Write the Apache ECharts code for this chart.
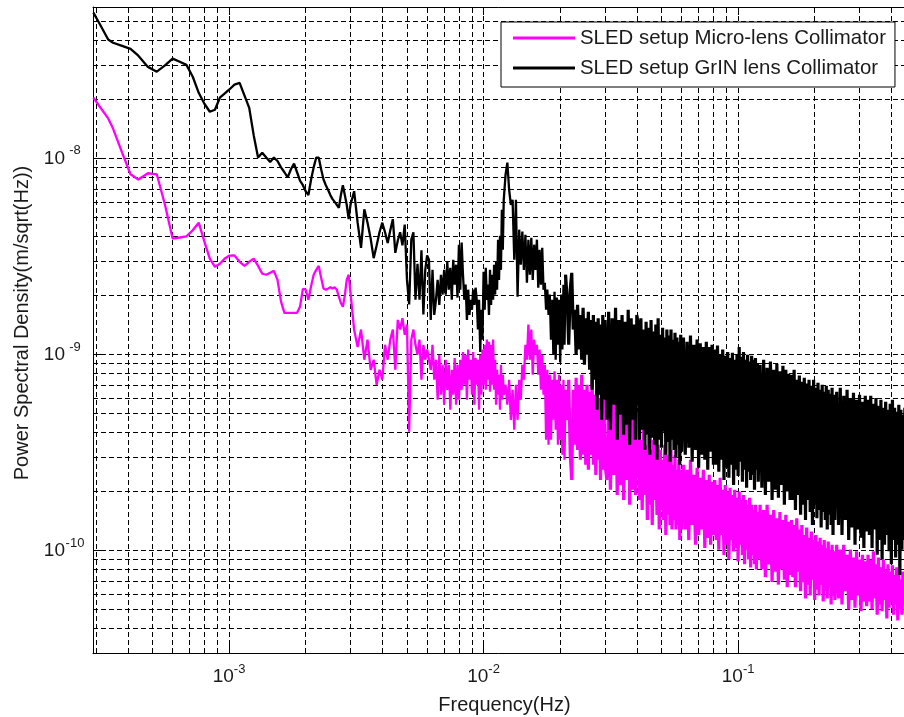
<!DOCTYPE html>
<html>
<head>
<meta charset="utf-8">
<script src="https://cdn.jsdelivr.net/npm/echarts/dist/echarts.min.js"></script>
<style>
  html, body { margin: 0; padding: 0; background: #ffffff; }
  #chart { width: 904px; height: 717px; }
</style>
</head>
<body>
<div id="chart"></div>
<script>
// Displacement noise spectra of the two SLED collimator setups.
// Frequencies in Hz; spectral densities in units of 1e-10 m/sqrt(Hz).
const UNIT = 1e-10;

const SERIES_NAMES = ['SLED setup Micro-lens Collimator', 'SLED setup GrIN lens Collimator'];

const freq = [
  // 0.29 - 2 mHz
  0.000293, 0.00031, 0.000335, 0.00035, 0.00038, 0.00041, 0.00044, 0.00048, 0.00052, 0.00056,
  0.0006, 0.00064, 0.00068, 0.00072, 0.00076, 0.0008, 0.00084, 0.00088, 0.00092, 0.00096,
  0.001, 0.00105, 0.0011, 0.00115, 0.0012, 0.00125, 0.0013, 0.00135, 0.0014, 0.00145,
  0.0015, 0.00155, 0.0016, 0.00165, 0.0017, 0.00175, 0.0018, 0.00185, 0.0019, 0.00195, 0.002,
  // 2 - 3 mHz
  0.00205, 0.0021, 0.00215, 0.0022, 0.00225, 0.0023, 0.00235, 0.0024, 0.00245, 0.0025,
  0.00255, 0.0026, 0.00265, 0.0027, 0.00275, 0.0028, 0.00285, 0.0029, 0.00295, 0.003,
  // 3 - 6 mHz
  0.0031, 0.0032, 0.0033, 0.0034, 0.0035, 0.0036, 0.0037, 0.0038, 0.0039, 0.004,
  0.0041, 0.0042, 0.0043, 0.0044, 0.0045, 0.0046, 0.0047, 0.0048, 0.0049, 0.005,
  0.0051, 0.0052, 0.0053, 0.0054, 0.0055, 0.0056, 0.0057, 0.0058, 0.0059, 0.006,
  // 6 - 12 mHz
  0.0061, 0.0062, 0.0063, 0.0064, 0.0065, 0.0066, 0.0067, 0.0068, 0.0069, 0.007,
  0.0071, 0.0072, 0.0073, 0.0074, 0.0075, 0.0076, 0.0077, 0.0078, 0.0079, 0.008,
  0.0081, 0.0082, 0.0083, 0.0084, 0.0085, 0.0086, 0.0087, 0.0088, 0.0089, 0.009,
  0.0091, 0.0092, 0.0093, 0.0094, 0.0095, 0.0096, 0.0097, 0.0098, 0.0099, 0.01,
  0.0101, 0.0102, 0.0103, 0.0104, 0.0105, 0.0106, 0.0107, 0.0108, 0.0109, 0.011,
  0.0111, 0.0112, 0.0113, 0.0114, 0.0115, 0.0116, 0.0117, 0.0118, 0.0119, 0.012,
  // 12 - 21 mHz
  0.0122, 0.0124, 0.0126, 0.0128, 0.013, 0.0132, 0.0134, 0.0136, 0.0138, 0.014,
  0.0142, 0.0144, 0.0146, 0.0148, 0.015, 0.0152, 0.0154, 0.0156, 0.0158, 0.016,
  0.0162, 0.0164, 0.0166, 0.0168, 0.017, 0.0172, 0.0174, 0.0176, 0.0178, 0.018,
  0.0182, 0.0184, 0.0186, 0.0188, 0.019, 0.0192, 0.0194, 0.0196, 0.0198, 0.02,
  0.0202, 0.0204, 0.0206, 0.0208, 0.021,
  // 21 - 30 mHz
  0.0213, 0.0216, 0.0219, 0.0222, 0.0225, 0.0228, 0.0231, 0.0234, 0.0237, 0.024,
  0.0243, 0.0246, 0.0249, 0.0252, 0.0255, 0.0258, 0.0261, 0.0264, 0.0267, 0.027,
  0.0273, 0.0276, 0.0279, 0.0282, 0.0285, 0.0288, 0.0291, 0.0294, 0.0297, 0.03,
  // 30 - 40 mHz
  0.0305, 0.031, 0.0315, 0.032, 0.0325, 0.033, 0.0335, 0.034, 0.0345, 0.035,
  0.0355, 0.036, 0.0365, 0.037, 0.0375, 0.038, 0.0385, 0.039, 0.0395, 0.04,
  // 40 - 60 mHz
  0.0405, 0.041, 0.0415, 0.042, 0.0425, 0.043, 0.0435, 0.044, 0.0445, 0.045,
  0.0455, 0.046, 0.0465, 0.047, 0.0475, 0.048, 0.0485, 0.049, 0.0495, 0.05,
  0.0505, 0.051, 0.0515, 0.052, 0.0525, 0.053, 0.0535, 0.054, 0.0545, 0.055,
  0.0555, 0.056, 0.0565, 0.057, 0.0575, 0.058, 0.0585, 0.059, 0.0595, 0.06,
  // 60 - 80 mHz
  0.061, 0.062, 0.063, 0.064, 0.065, 0.066, 0.067, 0.068, 0.069, 0.07,
  0.071, 0.072, 0.073, 0.074, 0.075, 0.076, 0.077, 0.078, 0.079, 0.08,
  // 80 - 120 mHz
  0.081, 0.082, 0.083, 0.084, 0.085, 0.086, 0.087, 0.088, 0.089, 0.09,
  0.091, 0.092, 0.093, 0.094, 0.095, 0.096, 0.097, 0.098, 0.099, 0.1,
  0.101, 0.102, 0.103, 0.104, 0.105, 0.106, 0.107, 0.108, 0.109, 0.11,
  0.111, 0.112, 0.113, 0.114, 0.115, 0.116, 0.117, 0.118, 0.119, 0.12,
  // 120 - 160 mHz
  0.122, 0.124, 0.126, 0.128, 0.13, 0.132, 0.134, 0.136, 0.138, 0.14,
  0.142, 0.144, 0.146, 0.148, 0.15, 0.152, 0.154, 0.156, 0.158, 0.16,
  // 160 - 240 mHz
  0.162, 0.164, 0.166, 0.168, 0.17, 0.172, 0.174, 0.176, 0.178, 0.18,
  0.182, 0.184, 0.186, 0.188, 0.19, 0.192, 0.194, 0.196, 0.198, 0.2,
  0.202, 0.204, 0.206, 0.208, 0.21, 0.212, 0.214, 0.216, 0.218, 0.22,
  0.222, 0.224, 0.226, 0.228, 0.23, 0.232, 0.234, 0.236, 0.238, 0.24,
  // 240 - 320 mHz
  0.244, 0.248, 0.252, 0.256, 0.26, 0.264, 0.268, 0.272, 0.276, 0.28,
  0.284, 0.288, 0.292, 0.296, 0.3, 0.304, 0.308, 0.312, 0.316, 0.32,
  // 320 - 500 mHz
  0.324, 0.328, 0.332, 0.336, 0.34, 0.344, 0.348, 0.352, 0.356, 0.36,
  0.364, 0.368, 0.372, 0.376, 0.38, 0.384, 0.388, 0.392, 0.396, 0.4,
  0.404, 0.408, 0.412, 0.416, 0.42, 0.424, 0.428, 0.432, 0.436, 0.44,
  0.444, 0.448, 0.452, 0.456, 0.46, 0.464, 0.468, 0.472, 0.476, 0.48,
  0.484, 0.488, 0.492, 0.496, 0.5
];

const microLens = [
  // 0.29 - 2 mHz
  204, 184, 160, 142, 107, 83, 78, 84, 83, 58,
  39, 39.5, 40, 43, 47, 37.6, 30.8, 28, 29, 30.8,
  31.9, 32, 29.7, 28.3, 29.7, 30.8, 28.3, 25.8, 25.5, 26.1,
  26.7, 24, 18.6, 16.3, 16.3, 16.3, 16.3, 16.3, 17.5, 21.6, 21.4,
  // 2 - 3 mHz
  19.0, 22.3, 25.5, 27, 28.3, 24.6, 21.7, 21.4, 21.7, 22,
  21.7, 22, 21.4, 19.7, 18.3, 17.5, 20, 24, 25.5, 20.6,
  // 3 - 6 mHz
  13.4, 10.9, 13.4, 9.4, 11.9, 8.35, 9.4, 7.0, 8.35, 7.43,
  11.2, 9.4, 11.9, 13.4, 8.35, 15.0, 13.4, 15.3, 12.6, 14.2,
  4.03, 11.9, 13.4, 11.2, 9.97, 11.9, 7.43, 11.2, 9.4, 10.6,
  // 6 - 12 mHz
  10.6, 8.35, 11.2, 7.43, 9.40, 5.87, 9.97, 6.23, 8.86, 5.54,
  9.40, 6.60, 8.86, 5.22, 8.35, 6.23, 9.6, 5.54, 8.86, 5.87,
  9.40, 6.60, 10.3, 7.00, 9.97, 5.87, 10.6, 7.43, 9.40, 6.23,
  10.3, 5.54, 9.6, 7.00, 9.40, 5.22, 9.97, 6.23, 10.6, 7.00,
  11.2, 6.60, 11.9, 7.43, 11.6, 6.45, 11.2, 7.00, 11.9, 6.60,
  9.40, 5.54, 8.35, 6.23, 7.88, 5.22, 8.86, 5.87, 7.88, 6.23,
  // 12 - 21 mHz
  7.00, 5.54, 7.43, 4.64, 6.60, 4.13, 7.00, 4.64, 7.43, 5.87,
  8.86, 7.43, 11.2, 9.40, 14.2, 9.40, 13.4, 7.88, 11.9, 9.97,
  11.2, 7.88, 10.6, 6.60, 9.97, 6.23, 8.86, 3.67, 8.35, 3.46,
  7.88, 3.67, 7.43, 4.64, 8.2, 4.13, 7.43, 3.46, 7.88, 3.67,
  7.00, 3.08, 7.43, 2.90, 6.60,
  // 21 - 30 mHz
  4.64, 7.43, 3.08, 2.29, 6.60, 3.46, 7.6, 3.26, 7.00, 2.90,
  7.88, 3.08, 6.60, 2.74, 7.00, 2.58, 6.45, 3.08, 7.43, 2.74,
  6.23, 2.43, 6.76, 2.90, 6.0, 2.29, 6.45, 2.58, 5.87, 2.74,
  // 30 - 40 mHz
  2.29, 5.87, 2.04, 5.54, 2.43, 6.23, 1.92, 5.22, 2.16, 5.87,
  1.81, 5.35, 2.29, 6.0, 1.71, 5.22, 2.04, 5.74, 1.92, 5.1,
  // 40 - 60 mHz
  4.13, 1.81, 3.67, 1.61, 4.38, 1.92, 3.46, 1.43, 3.89, 1.71,
  3.26, 1.35, 3.67, 1.81, 3.08, 1.52, 3.46, 1.28, 3.26, 1.61,
  2.90, 1.43, 3.46, 1.20, 3.08, 1.52, 2.90, 1.35, 3.26, 1.28,
  2.74, 1.43, 3.08, 1.28, 2.58, 1.35, 2.90, 1.13, 2.58, 1.28,
  // 60 - 80 mHz
  2.74, 1.28, 2.58, 1.13, 2.90, 1.35, 2.43, 1.07, 2.64, 1.20,
  2.35, 1.28, 2.58, 1.03, 2.29, 1.16, 2.43, 1.07, 2.24, 1.20,
  // 80 - 120 mHz
  2.29, 1.13, 2.16, 1.01, 2.35, 1.20, 2.04, 0.95, 2.16, 1.07,
  2.0, 0.90, 2.09, 1.13, 1.92, 0.99, 2.04, 1.03, 1.86, 0.88,
  2.0, 1.07, 1.81, 0.95, 1.92, 0.85, 1.81, 1.01, 1.71, 0.90,
  1.86, 0.82, 1.71, 0.95, 1.61, 0.85, 1.71, 0.80, 1.57, 0.90,
  // 120 - 160 mHz
  1.71, 0.80, 1.61, 0.73, 1.71, 0.85, 1.52, 0.69, 1.61, 0.78,
  1.46, 0.67, 1.57, 0.80, 1.43, 0.71, 1.52, 0.65, 1.40, 0.75,
  // 160 - 240 mHz
  1.43, 0.73, 1.35, 0.65, 1.46, 0.78, 1.28, 0.62, 1.35, 0.69,
  1.20, 0.57, 1.31, 0.67, 1.16, 0.59, 1.25, 0.71, 1.13, 0.56,
  1.20, 0.63, 1.11, 0.59, 1.16, 0.67, 1.07, 0.55, 1.13, 0.62,
  1.03, 0.57, 1.11, 0.65, 1.01, 0.53, 1.07, 0.59, 0.99, 0.56,
  // 240 - 320 mHz
  1.07, 0.57, 1.01, 0.53, 1.07, 0.62, 0.95, 0.50, 1.01, 0.56,
  0.92, 0.51, 0.99, 0.59, 0.90, 0.49, 0.95, 0.55, 0.88, 0.52,
  // 320 - 500 mHz
  0.95, 0.55, 0.90, 0.50, 0.99, 0.57, 0.85, 0.47, 0.92, 0.53,
  0.82, 0.49, 0.90, 0.56, 0.80, 0.45, 0.85, 0.51, 0.78, 0.55,
  0.84, 0.47, 0.75, 0.53, 0.82, 0.44, 0.75, 0.50, 0.71, 0.47,
  0.78, 0.53, 0.69, 0.43, 0.74, 0.49, 0.67, 0.45, 0.73, 0.51,
  0.67, 0.42, 0.71, 0.47, 0.65
];

const grinLens = [
  // 0.29 - 2 mHz
  554, 486, 404, 389, 375, 362, 334, 293, 277, 298,
  323, 311, 300, 261, 216, 190, 173, 177, 204, 214,
  224, 238, 243, 209, 181, 131, 101, 107, 101, 96,
  101, 97, 90, 85, 80, 88, 94, 85, 77, 73, 68,
  // 2 - 3 mHz
  65, 78, 90, 101, 101, 88, 78, 73, 69, 65,
  62, 60, 58, 56, 65, 73, 73, 58, 49, 58,
  // 3 - 6 mHz
  68, 47, 35, 55, 47, 39, 31, 36, 42, 47,
  42, 37, 43, 49, 33, 38, 42, 36, 46, 24,
  18, 38.5, 42, 19, 29, 19, 34, 16, 27, 32,
  // 6 - 12 mHz
  30.4, 15.0, 27.0, 15.9, 19.0, 24.0, 17.9, 25.5, 20.2, 27.0,
  20.2, 29.7, 21.4, 27.7, 19.0, 30.4, 22.7, 28.7, 19.5, 36.3,
  21.4, 37.2, 25.5, 19.0, 22.7, 15.0, 21.4, 15.9, 19.0, 16.9,
  21.4, 17.9, 21.9, 19.0, 13.4, 19.0, 10.3, 16.9, 11.9, 26.4,
  16.9, 27.7, 19.0, 22.7, 15.9, 27.0, 17.9, 25.5, 19.0, 28.7,
  20.2, 29.7, 21.4, 38.5, 24.0, 40.3, 27.0, 54.7, 34.2, 61.5,
  // 12 - 21 mHz
  82.6, 95.1, 69.2, 58.0, 61.5, 30.4, 61.5, 19.7, 43.3, 28.7,
  42.3, 27.0, 40.8, 23.2, 38.5, 25.5, 39.4, 24.0, 36.3, 27.0,
  38.5, 21.9, 34.2, 22.7, 35.0, 21.4, 23.2, 16.9, 21.4, 15.9,
  20.2, 11.9, 19.0, 9.97, 20.9, 9.40, 19.5, 11.2, 19.0, 9.1,
  20.2, 10.6, 22.7, 11.2, 25.5,
  // 21 - 30 mHz
  19.0, 11.2, 21.4, 26.1, 13.4, 16.9, 9.97, 17.9, 10.6, 15.9,
  9.40, 17.3, 8.86, 15.3, 9.97, 16.5, 8.35, 15.0, 6.60, 15.9,
  7.43, 14.7, 5.22, 15.3, 6.23, 14.2, 4.64, 15.9, 5.87, 15.0,
  // 30 - 40 mHz
  4.64, 16.5, 4.13, 15.3, 5.54, 17.3, 3.67, 15.0, 4.93, 15.9,
  3.89, 14.7, 4.38, 16.9, 3.46, 15.3, 4.64, 14.2, 3.67, 15.9,
  // 40 - 60 mHz
  14.2, 3.67, 15.3, 4.13, 13.4, 3.26, 14.7, 3.89, 13.7, 3.08,
  15.0, 3.76, 13.1, 3.46, 14.2, 2.90, 15.3, 3.67, 12.6, 3.34,
  13.7, 4.03, 12.2, 3.08, 13.4, 3.58, 12.5, 2.84, 13.4, 3.67,
  11.9, 3.26, 12.9, 2.97, 12.2, 3.46, 11.6, 2.74, 12.6, 3.19,
  // 60 - 80 mHz
  12.2, 3.08, 11.6, 3.34, 12.5, 2.84, 11.2, 3.26, 11.9, 2.64,
  11.4, 3.08, 10.9, 2.90, 11.6, 2.58, 10.9, 3.19, 11.2, 2.74,
  // 80 - 120 mHz
  10.6, 2.74, 11.1, 2.52, 9.97, 2.90, 10.6, 2.29, 9.86, 2.64,
  10.3, 2.35, 9.6, 2.74, 10.2, 2.16, 9.40, 2.58, 9.97, 2.40,
  10.9, 2.84, 9.74, 2.24, 10.3, 2.58, 9.40, 2.09, 9.97, 2.52,
  9.2, 2.29, 9.86, 2.43, 9.40, 2.04, 9.6, 2.58, 8.97, 2.24,
  // 120 - 160 mHz
  8.86, 2.09, 9.40, 1.92, 8.55, 2.24, 9.2, 1.81, 8.35, 2.04,
  8.97, 1.86, 8.2, 2.16, 8.76, 1.71, 8.35, 2.0, 7.97, 1.81,
  // 160 - 240 mHz
  7.88, 1.81, 8.35, 1.61, 7.43, 1.92, 7.8, 1.52, 7.26, 1.71,
  7.6, 1.43, 7.1, 1.81, 7.43, 1.57, 6.92, 1.35, 7.43, 1.71,
  6.76, 1.46, 7.17, 1.61, 6.60, 1.31, 7.00, 1.57, 6.45, 1.43,
  6.92, 1.28, 6.60, 1.52, 6.3, 1.35, 6.76, 1.20, 6.23, 1.43,
  // 240 - 320 mHz
  6.45, 1.35, 6.76, 1.20, 6.15, 1.43, 6.60, 1.13, 6.0, 1.31,
  6.37, 1.07, 5.87, 1.28, 6.23, 1.16, 5.74, 1.03, 6.15, 1.25,
  // 320 - 500 mHz
  5.87, 1.20, 6.15, 1.03, 5.6, 1.28, 6.0, 0.95, 5.48, 1.13,
  5.87, 0.90, 5.35, 1.07, 5.74, 1.20, 5.22, 0.99, 5.6, 0.85,
  5.87, 1.13, 5.35, 0.92, 5.1, 1.07, 5.54, 0.75, 5.22, 1.01,
  4.93, 1.13, 5.35, 0.90, 5.1, 0.71, 5.48, 1.03, 4.99, 0.88,
  5.22, 1.07, 4.87, 0.95, 5.1
];

// Axis ranges and the 1..9 x 10^n positions of the log grid.
const X_MIN = 2.92e-4, X_MAX = 0.5;
const Y_MIN = 3e-11, Y_MAX = 5.92e-8;
const GRID_MANTISSAS = [1, 2, 3, 4, 5, 6, 7, 8, 9];
const X_DECADES = [-4, -3, -2, -1];
const Y_DECADES = [-11, -10, -9, -8];

// Above this frequency the bins crowd into a solid band; that part is stroked a little wider.
const BAND_FROM = 0.021;

const FONT = '"Liberation Sans", Arial, Helvetica, sans-serif';
const TEXT = '#1a1a1a';

function gridValues(decades, lo, hi) {
  const out = [];
  decades.forEach(d => GRID_MANTISSAS.forEach(m => {
    const v = m * Math.pow(10, d);
    if (v > lo * 1.001 && v < hi / 1.001) out.push(v);
  }));
  return out;
}

function powerLabel(v) {
  const e = Math.log10(v);
  const r = Math.round(e);
  if (Math.abs(e - r) > 1e-6) return '';
  return '{b|10}{s|' + r + '}';
}

const baseStyle = { fontSize: 19, lineHeight: 22, padding: [6, 0, 0, 0], fontFamily: FONT, color: TEXT };
const supStyle = { fontSize: 13, lineHeight: 14, verticalAlign: 'top', fontFamily: FONT, color: TEXT };
const richX = { b: baseStyle, s: supStyle };
// y labels keep the mantissa "10" in a fixed column; the exponent runs to the right
const richY = { b: baseStyle, s: Object.assign({}, supStyle, { width: 20, align: 'left' }) };

const toPairs = vals => freq.map((f, i) => [f, vals[i] * UNIT]);

// one spectrum = a thin sparse part and a slightly wider dense part, sharing a name
function spectrumSeries(name, vals, color, z) {
  const pts = toPairs(vals);
  const common = {
    name, type: 'line', symbol: 'none', showSymbol: false, z,
    itemStyle: { color }, emphasis: { disabled: true }
  };
  return [
    Object.assign({}, common, {
      data: pts.filter(p => p[0] <= BAND_FROM),
      lineStyle: { color, width: 2.3 }
    }),
    Object.assign({}, common, {
      data: pts.filter(p => p[0] >= BAND_FROM),
      lineStyle: { color, width: 3.2 }
    })
  ];
}

const axisLineStyle = { color: '#000', width: 1 };

const chart = echarts.init(document.getElementById('chart'), null, { renderer: 'canvas' });

chart.setOption({
  animation: false,
  backgroundColor: '#ffffff',
  grid: { left: 93, top: 7, right: -12, bottom: 64, containLabel: false, outerBoundsMode: 'none' },
  legend: {
    orient: 'vertical',
    left: 501, top: 22,
    padding: [6, 9, 9, 12],
    itemGap: 10, itemWidth: 62, itemHeight: 3,
    icon: 'rect',
    backgroundColor: '#ffffff', borderColor: '#000', borderWidth: 1, borderRadius: 0,
    textStyle: { fontSize: 20.4, color: TEXT, fontFamily: FONT, lineHeight: 20 },
    data: SERIES_NAMES
  },
  xAxis: [
    {
      type: 'log', logBase: 10, min: X_MIN, max: X_MAX, position: 'bottom',
      name: 'Frequency(Hz)', nameLocation: 'middle', nameGap: 42,
      nameTextStyle: { fontSize: 20, color: TEXT, fontFamily: FONT },
      axisLine: { show: true, onZero: false, lineStyle: axisLineStyle },
      axisTick: { show: true, inside: true, length: 8, lineStyle: axisLineStyle },
      axisLabel: { formatter: powerLabel, rich: richX, margin: 10 },
      splitLine: { show: false }
    },
    {
      type: 'log', logBase: 10, min: X_MIN, max: X_MAX, position: 'top',
      axisLine: { show: true, onZero: false, lineStyle: axisLineStyle },
      axisTick: { show: true, inside: true, length: 8, lineStyle: axisLineStyle },
      axisLabel: { show: false },
      splitLine: { show: false }
    }
  ],
  yAxis: {
    type: 'log', logBase: 10, min: Y_MIN, max: Y_MAX,
    name: 'Power Spectral Density(m/sqrt(Hz))', nameLocation: 'middle', nameGap: 60,
    nameTextStyle: { fontSize: 20, color: TEXT, fontFamily: FONT, padding: [0, 0, 0, 14] },
    axisLine: { show: true, onZero: false, lineStyle: axisLineStyle },
    axisTick: { show: true, inside: true, length: 8, lineStyle: axisLineStyle },
    axisLabel: { formatter: powerLabel, rich: richY, margin: 8, padding: [0, 0, 6, 0] },
    splitLine: { show: false }
  },
  series: [
    {
      // dashed log grid drawn beneath the spectra
      type: 'line', data: [], silent: true, z: 1,
      markLine: {
        silent: true, z: 1, animation: false, precision: 20,
        symbol: ['none', 'none'],
        label: { show: false },
        emphasis: { disabled: true },
        lineStyle: { color: '#000', width: 1, type: [5, 3] },
        data: gridValues(X_DECADES, X_MIN, X_MAX).map(v => ({ xAxis: v }))
          .concat(gridValues(Y_DECADES, Y_MIN, Y_MAX).map(v => ({ yAxis: v })))
      }
    }
  ].concat(
    spectrumSeries(SERIES_NAMES[0], microLens, '#ff00ff', 3),
    spectrumSeries(SERIES_NAMES[1], grinLens, '#000000', 4)
  )
});
</script>
</body>
</html>
